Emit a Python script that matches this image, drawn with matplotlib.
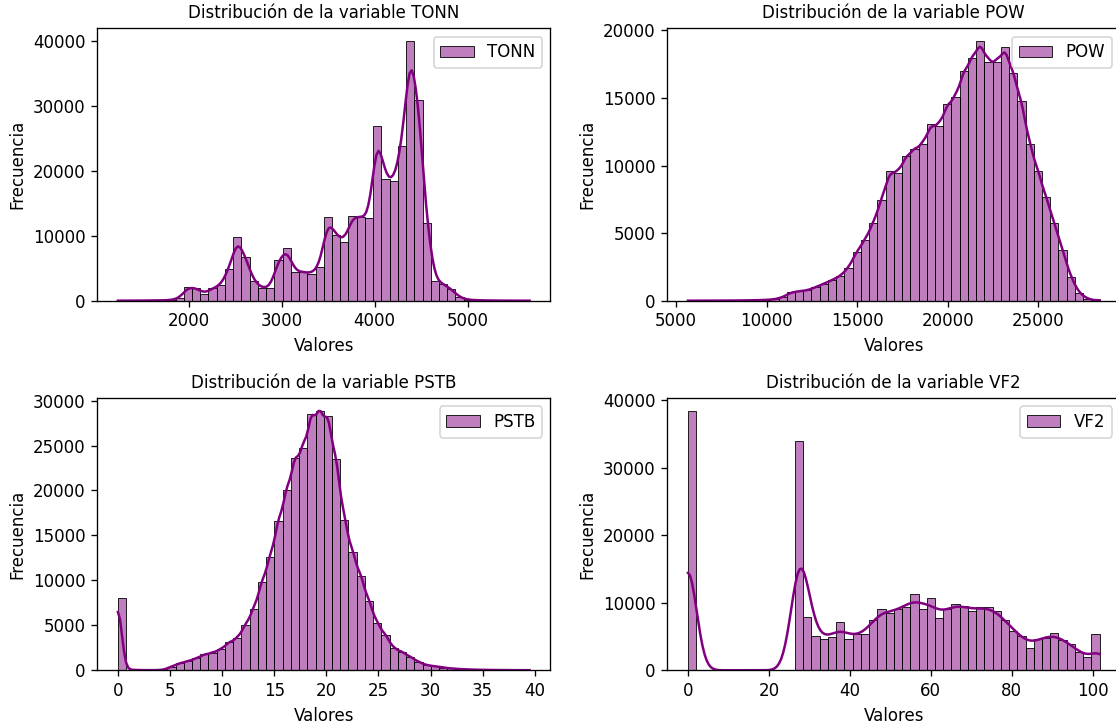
import numpy as np
import matplotlib.pyplot as plt

variables = ['TONN', 'POW', 'PSTB', 'VF2']

# value range of each variable; counts are per bin, 50 equal bins over the range
tonn_range = (1240, 5665)
tonn_counts = [10, 15, 20, 30, 40, 60, 100, 400, 2150, 1950,
               1100, 1900, 2400, 4900, 9800, 6700, 3000, 1950, 1950, 6300,
               8100, 4500, 4450, 4200, 5200, 12900, 10100, 9100, 13100, 12900,
               12700, 26900, 18800, 18400, 23900, 40000, 30900, 12000, 3100, 2600,
               1800, 500, 150, 80, 50, 30, 20, 10, 10, 5]

pow_range = (5660, 28400)
pow_counts = [5, 5, 5, 10, 10, 15, 20, 30, 40, 60,
              100, 250, 620, 700, 760, 1000, 1260, 1520, 1830, 2430,
              3640, 4500, 5740, 7470, 9600, 9450, 10700, 11240, 11560, 13040,
              12920, 14550, 15050, 17000, 17940, 19180, 17650, 17650, 18800, 16830,
              14800, 11560, 9630, 7650, 5740, 3760, 1750, 570, 150, 40]

pstb_range = (0.0, 39.5)
pstb_counts = [7990, 60, 20, 10, 10, 40, 400, 780, 1010, 1310,
               1760, 1950, 2330, 3110, 3560, 5060, 6830, 9860, 12640, 16650,
               20060, 23625, 24710, 28500, 28800, 28300, 23510, 16760, 13125, 10500,
               7690, 5210, 3940, 2440, 2060, 1500, 940, 560, 450, 300,
               200, 130, 90, 60, 40, 30, 20, 15, 10, 10]

vf2_range = (0.0, 101.7)
vf2_counts = [38400, 0, 0, 0, 0, 0, 0, 0, 0, 0,
              0, 0, 0, 34000, 7920, 5100, 4600, 4950, 7180, 4600,
              5300, 5300, 7430, 9110, 8420, 9010, 9400, 11290, 9010, 10700,
              7720, 9110, 9850, 9500, 8810, 9300, 9300, 8810, 7430, 5840,
              5100, 3370, 4700, 4850, 5590, 4450, 3860, 2720, 1970, 5420]

ranges = [tonn_range, pow_range, pstb_range, vf2_range]
counts = [tonn_counts, pow_counts, pstb_counts, vf2_counts]


def kde_line(edges, cnt):
    # gaussian kde (scott bandwidth) of the binned values, scaled to counts;
    # the two end bins sit on the min / max, the others spread a bit over their bin
    cnt = np.asarray(cnt, dtype=float)
    width = edges[1] - edges[0]
    loc = (edges[:-1] + edges[1:]) / 2
    loc[0], loc[-1] = edges[0], edges[-1]
    n = cnt.sum()
    mean = np.average(loc, weights=cnt)
    var = np.average((loc - mean) ** 2, weights=cnt) + width ** 2 / 12
    bw = np.sqrt(var) * n ** (-1 / 5)
    sig = np.full(len(cnt), np.sqrt(bw ** 2 + width ** 2 / 24))
    sig[0] = sig[-1] = bw
    grid = np.linspace(edges[0], edges[-1], 200)
    z = (grid[None, :] - loc[:, None]) / sig[:, None]
    dens = (cnt[:, None] * np.exp(-0.5 * z ** 2) / (sig[:, None] * np.sqrt(2 * np.pi))).sum(axis=0)
    return grid, dens * width


fig = plt.figure(figsize=(9.3, 725 / 120), dpi=120)
boxes = [[0.0872, 0.5852, 0.4058, 0.3755],
         [0.5980, 0.5852, 0.4058, 0.3755],
         [0.0872, 0.0755, 0.4058, 0.3755],
         [0.5980, 0.0755, 0.4058, 0.3755]]

for box, col, (lo, hi), cnt in zip(boxes, variables, ranges, counts):
    ax = fig.add_axes(box)
    edges = np.linspace(lo, hi, 51)
    centers = (edges[:-1] + edges[1:]) / 2
    ax.hist(centers, bins=edges, weights=cnt, facecolor=(0.5, 0, 0.5, 0.5),
            edgecolor='black', linewidth=0.5, label=col)
    gx, gy = kde_line(edges, cnt)
    ax.plot(gx, gy, color='purple', linewidth=1.5)
    ax.set_ylim(bottom=0)
    ax.set_title(f'Distribución de la variable {col}', fontsize=10)
    ax.set_xlabel('Valores')
    ax.set_ylabel('Frecuencia')
    ax.legend(loc='upper right')

fig.savefig('out.png', dpi=120)
